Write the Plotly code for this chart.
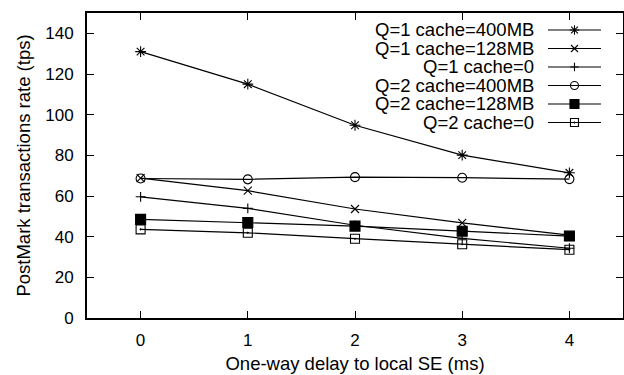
import plotly.graph_objects as go

delays = [0, 1, 2, 3, 4]
series_names = ["Q=1 cache=400MB", "Q=1 cache=128MB", "Q=1 cache=0",
                "Q=2 cache=400MB", "Q=2 cache=128MB", "Q=2 cache=0"]
q1_400 = [131.0, 115.0, 94.8, 80.1, 71.4]
q1_128 = [68.8, 62.6, 53.6, 46.8, 40.8]
q1_0 = [59.6, 53.9, 45.6, 39.2, 34.3]
q2_400 = [68.6, 68.2, 69.3, 69.0, 68.3]
q2_128 = [48.5, 47.0, 45.2, 42.7, 40.3]
q2_0 = [43.6, 41.9, 39.0, 36.3, 33.6]
series_values = [q1_400, q1_128, q1_0, q2_400, q2_128, q2_0]
x_ticks = [0, 1, 2, 3, 4]
y_ticks = [0, 20, 40, 60, 80, 100, 120, 140]

symbols = ["asterisk-open", "x-thin-open", "cross-thin-open",
           "circle-open", "square", "square-open-dot"]
sizes = [9, 8, 7, 9, 10, 9]
legend_sizes = [8, 7, 6, 8, 9, 8]

FONT = "Liberation Sans, Arial, Helvetica, sans-serif"
fig = go.Figure()

for name, vals, sym, sz in zip(series_names, series_values, symbols, sizes):
    fig.add_trace(go.Scatter(
        x=delays, y=vals, name=name, mode="lines+markers",
        line=dict(color="black", width=1.2),
        marker=dict(symbol=sym, size=sz, color="black",
                    line=dict(color="black", width=1.1)),
        cliponaxis=False, showlegend=False))

# manual legend (text on the left, sample on the right, like gnuplot)
for i, (name, sym, sz) in enumerate(zip(series_names, symbols, legend_sizes)):
    fig.add_trace(go.Scatter(
        x=[0, 1], y=[i, i], mode="lines", xaxis="x2", yaxis="y2",
        line=dict(color="black", width=1.2), showlegend=False,
        hoverinfo="skip", cliponaxis=False))
    fig.add_trace(go.Scatter(
        x=[0.5], y=[i], mode="markers", xaxis="x2", yaxis="y2",
        marker=dict(symbol=sym, size=sz, color="black",
                    line=dict(color="black", width=1.1)),
        showlegend=False, hoverinfo="skip", cliponaxis=False))
    fig.add_annotation(x=0, y=i, xref="x2", yref="y2", text=name,
                       showarrow=False, xanchor="right", yanchor="middle",
                       xshift=-12, font=dict(family=FONT, size=18.5, color="black"))

axis_common = dict(showline=True, linecolor="black", linewidth=2,
                   mirror="ticks", ticks="inside", ticklen=7, tickwidth=1,
                   tickcolor="black", showgrid=False, zeroline=False,
                   automargin=False,
                   tickfont=dict(family=FONT, size=17, color="black"))

fig.update_layout(
    width=624, height=375,
    margin=dict(l=87, r=1, t=13, b=57),
    paper_bgcolor="white", plot_bgcolor="rgba(0,0,0,0)",
    showlegend=False,
    xaxis=dict(range=[-0.5, 4.5], tickvals=x_ticks, ticklabelstandoff=6,
               title=dict(text="One-way delay to local SE (ms)", standoff=8,
                          font=dict(family=FONT, size=18.5, color="black")),
               **axis_common),
    yaxis=dict(range=[0, 150], tickvals=y_ticks, ticklabelstandoff=8,
               title=dict(text="PostMark transactions rate (tps)", standoff=10,
                          font=dict(family=FONT, size=18.5, color="black")),
               **axis_common),
    xaxis2=dict(domain=[0.860, 0.959], range=[0, 1], visible=False,
                anchor="y2", fixedrange=True),
    yaxis2=dict(domain=[0.6107, 0.9746], range=[5.5, -0.5], visible=False,
                anchor="x2", fixedrange=True),
)

fig.write_html("out.html", config={"displayModeBar": False},
               post_script="document.body.style.margin='0';document.body.style.overflow='hidden';")
